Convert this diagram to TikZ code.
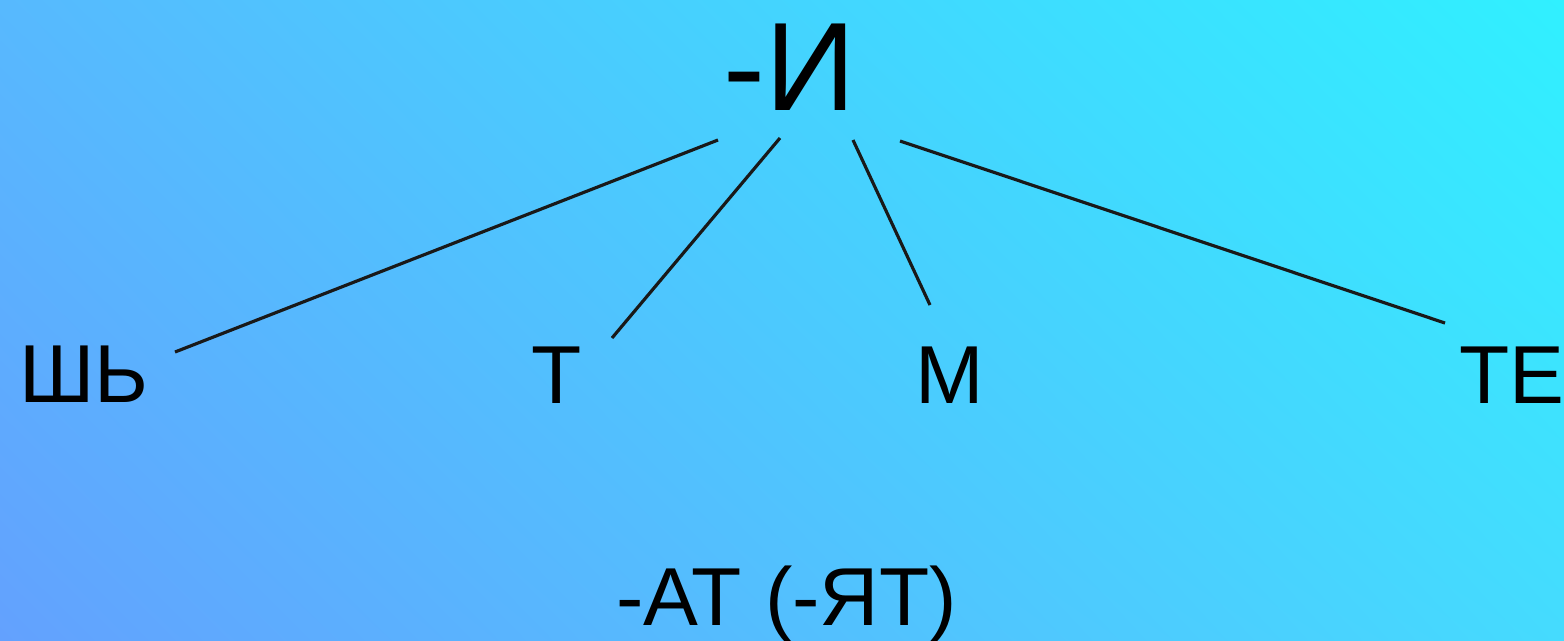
\documentclass[tikz,border=0pt]{standalone}
\usepackage{fontspec}
\setmainfont{Liberation Sans}
\usepackage{xcolor}
\usetikzlibrary{positioning,calc,shadings}
\definecolor{bgtl}{RGB}{87,185,254}
\definecolor{bgtr}{RGB}{48,240,255}
\definecolor{bgbl}{RGB}{99,161,254}
\definecolor{bgbr}{RGB}{69,219,254}
\begin{document}
\begin{tikzpicture}[
  root/.style={anchor=base,inner sep=0pt,font=\fontsize{35.8}{40}\selectfont},
  leaf/.style={anchor=base,inner sep=0pt,font=\fontsize{23.4}{28}\selectfont},
  br/.style={line width=0.9pt,draw=black!90}]
  \useasboundingbox (0,0) rectangle (15.64,-6.4);
  \shade[upper left=bgtl,upper right=bgtr,lower left=bgbl,lower right=bgbr] (0,0) rectangle (15.64,-6.4);
  \node[root](i) at (7.90,-1.10){-И};
  \node[leaf](shb) at (0.84,-4.02){ШЬ};
  \node[leaf](t) at (5.57,-4.03){Т};
  \node[leaf](m) at (9.50,-4.03){М};
  \node[leaf](te) at (15.12,-4.03){ТЕ};
  \node[leaf](at) at (7.865,-6.25){-АТ (-ЯТ)};
  % line ends
  \coordinate (i1) at (7.18,-1.40);
  \coordinate (i2) at (7.80,-1.38);
  \coordinate (i3) at (8.53,-1.40);
  \coordinate (i4) at (9.00,-1.41);
  \coordinate (shbx) at (1.75,-3.52);
  \coordinate (tx) at (6.12,-3.38);
  \coordinate (mx) at (9.30,-3.05);
  \coordinate (tex) at (14.45,-3.23);
  % branches
  \draw[br] (i1)--(shbx);
  \draw[br] (i2)--(tx);
  \draw[br] (i3)--(mx);
  \draw[br] (i4)--(tex);
\end{tikzpicture}
\end{document}
